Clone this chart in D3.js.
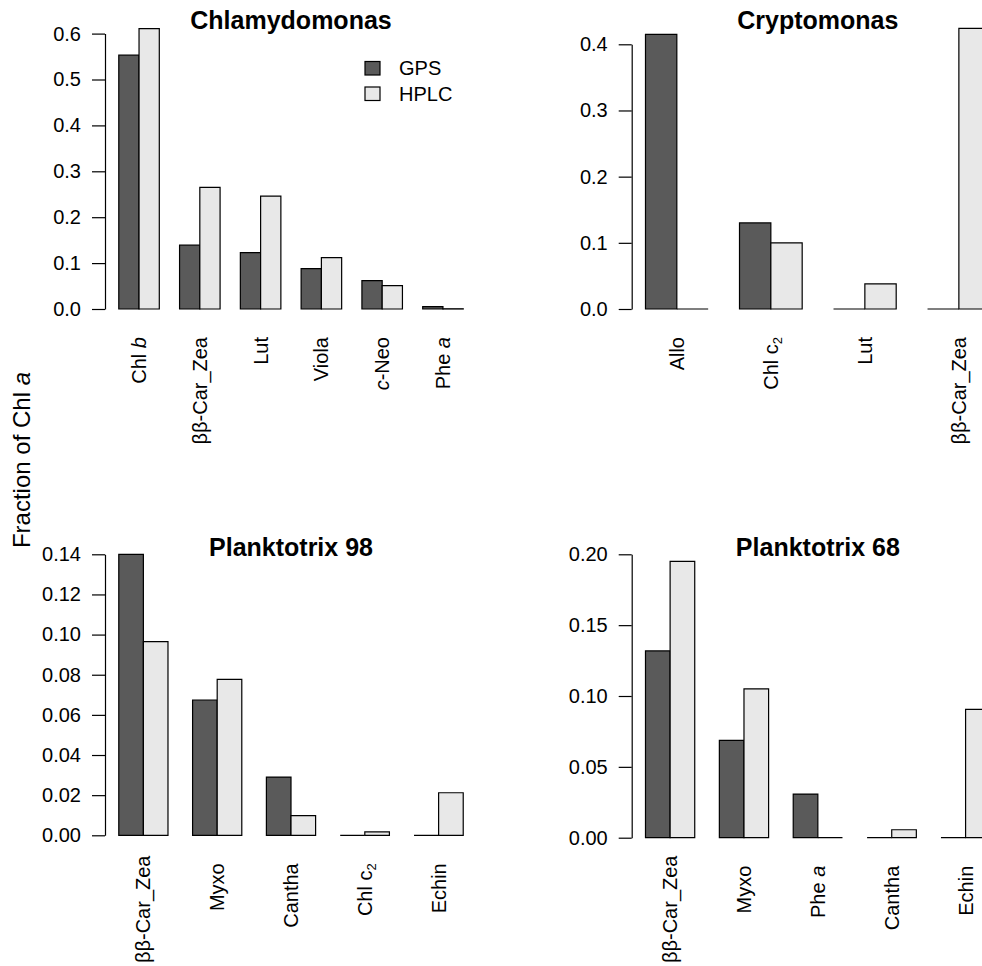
<!DOCTYPE html>
<html>
<head>
<meta charset="utf-8">
<script src="https://cdn.jsdelivr.net/npm/d3@7"></script>
<style>
  html, body { margin: 0; padding: 0; background: #ffffff; overflow: hidden; }
  svg { display: block; font-family: "Liberation Sans", Arial, Helvetica, sans-serif; }
</style>
</head>
<body>
<svg id="chart" width="982" height="966"></svg>
<script>
// ---------- data ----------
const seriesNames = ["GPS", "HPLC"];

const chlamyCats = ["Chl b", "ββ-Car_Zea", "Lut", "Viola", "c-Neo", "Phe a"];
const chlamyGPS  = [0.553, 0.139, 0.123, 0.088, 0.062, 0.005];
const chlamyHPLC = [0.611, 0.265, 0.246, 0.112, 0.051, 0.0005];
const chlamyTicks = [0.0, 0.1, 0.2, 0.3, 0.4, 0.5, 0.6];

const cryptoCats = ["Allo", "Chl c2", "Lut", "ββ-Car_Zea"];
const cryptoGPS  = [0.415, 0.130, 0, 0];
const cryptoHPLC = [0, 0.100, 0.038, 0.424];
const cryptoTicks = [0.0, 0.1, 0.2, 0.3, 0.4];

const plank98Cats = ["ββ-Car_Zea", "Myxo", "Cantha", "Chl c2", "Echin"];
const plank98GPS  = [0.140, 0.0674, 0.029, 0, 0];
const plank98HPLC = [0.0965, 0.0777, 0.0098, 0.0017, 0.0212];
const plank98Ticks = [0.00, 0.02, 0.04, 0.06, 0.08, 0.10, 0.12, 0.14];

const plank68Cats = ["ββ-Car_Zea", "Myxo", "Phe a", "Cantha", "Echin"];
const plank68GPS  = [0.1318, 0.0687, 0.0308, 0, 0];
const plank68HPLC = [0.195, 0.105, 0, 0.0056, 0.0906];
const plank68Ticks = [0.00, 0.05, 0.10, 0.15, 0.20];

// rich label formatting: [text, style] segments
const richLabels = {
  "Chl b": [["Chl ", ""], ["b", "i"]],
  "c-Neo": [["c", "i"], ["-Neo", ""]],
  "Phe a": [["Phe ", ""], ["a", "i"]],
  "Chl c2": [["Chl c", ""], ["2", "sub"]]
};

// ---------- layout ----------
const W = 982, H = 966;
const colors = { GPS: "#5a5a5a", HPLC: "#e8e8e8" };
const svg = d3.select("#chart");

const panels = [
  { title: "Chlamydomonas", cats: chlamyCats, gps: chlamyGPS, hplc: chlamyHPLC, ticks: chlamyTicks, fmt: d3.format(".1f"),
    x0: 105, x1: 477, yb: 309, yt: 33.6, legend: true },
  { title: "Cryptomonas", cats: cryptoCats, gps: cryptoGPS, hplc: cryptoHPLC, ticks: cryptoTicks, fmt: d3.format(".1f"),
    x0: 631.7, x1: 1004, yb: 309, yt: 44.3 },
  { title: "Planktotrix 98", cats: plank98Cats, gps: plank98GPS, hplc: plank98HPLC, ticks: plank98Ticks, fmt: d3.format(".2f"),
    x0: 105, x1: 477, yb: 835.3, yt: 554.3 },
  { title: "Planktotrix 68", cats: plank68Cats, gps: plank68GPS, hplc: plank68HPLC, ticks: plank68Ticks, fmt: d3.format(".2f"),
    x0: 631.7, x1: 1004, yb: 837.7, yt: 554.3 }
];

const titleBaselines = [29, 29, 556, 556];

function barPath(x, w, y0, y1) {
  return `M${x},${y0}V${y1}H${x + w}V${y0}Z`;
}

panels.forEach((p, pi) => {
  const n = p.cats.length;
  const g = svg.append("g");
  const y = d3.scaleLinear()
    .domain([p.ticks[0], p.ticks[p.ticks.length - 1]])
    .range([p.yb, p.yt]);
  // R barplot: groups of 2 bars + 1 space, 4% axis extension
  const outer = 0.04 * (3 * n - 1) / 3;
  const x = d3.scaleBand().domain(p.cats).range([p.x0, p.x1])
    .paddingInner(1 / 3).paddingOuter(outer);
  const xs = d3.scaleBand().domain(seriesNames).range([0, x.bandwidth()]);

  const rows = p.cats.map((c, i) => ({ cat: c, GPS: p.gps[i], HPLC: p.hplc[i] }));

  const grp = g.selectAll("g.grp").data(rows).join("g")
    .attr("transform", d => `translate(${x(d.cat)},0)`);
  grp.selectAll("path").data(d => seriesNames.map(s => ({ s, v: d[s] }))).join("path")
    .attr("d", d => barPath(xs(d.s), xs.bandwidth(), y(0), y(d.v)))
    .attr("fill", d => colors[d.s])
    .attr("stroke", "#000")
    .attr("stroke-width", 1.2);

  // y axis
  const ax = g.append("g").attr("transform", `translate(${p.x0},0)`)
    .call(d3.axisLeft(y).tickValues(p.ticks).tickFormat(p.fmt).tickSize(13).tickSizeOuter(0).tickPadding(11));
  ax.select(".domain").attr("stroke", "#000").attr("stroke-width", 1.2);
  ax.selectAll(".tick line").attr("stroke", "#000").attr("stroke-width", 1.2);
  ax.selectAll(".tick text").attr("fill", "#000").style("font-size", "20px")
    .style("font-family", "'Liberation Sans', Arial, sans-serif");

  // x labels (rotated); keep inside the picture's bottom edge
  p.cats.forEach(c => {
    const cx = x(c) + x.bandwidth() / 2;
    const t = g.append("text")
      .attr("text-anchor", "end")
      .attr("dy", "0.35em")
      .style("font-size", "20px")
      .attr("fill", "#000");
    const segs = richLabels[c] || [[c, ""]];
    segs.forEach(([txt, st]) => {
      const ts = t.append("tspan").text(txt);
      if (st === "i") ts.style("font-style", "italic");
      if (st === "sub") ts.style("font-size", "13px").attr("dy", "0.3em");
    });
    const len = t.node().getComputedTextLength();
    let top = p.yb + 28;
    if (top + len > H - 3) top = H - 3 - len;
    t.attr("transform", `translate(${cx},${top}) rotate(-90)`);
  });

  // title
  g.append("text")
    .attr("x", (p.x0 + p.x1) / 2)
    .attr("y", titleBaselines[pi])
    .attr("text-anchor", "middle")
    .style("font-size", "25px")
    .style("font-weight", "bold")
    .attr("fill", "#000")
    .text(p.title);

  if (p.legend) {
    const lg = g.append("g").attr("transform", "translate(365,61.5)");
    seriesNames.forEach((s, i) => {
      lg.append("rect").attr("x", 0).attr("y", i * 25.5).attr("width", 15).attr("height", 13.5)
        .attr("fill", colors[s]).attr("stroke", "#000").attr("stroke-width", 1.2);
      lg.append("text").attr("x", 34).attr("y", i * 25.5 + 6.75).attr("dy", "0.35em")
        .style("font-size", "20px").attr("fill", "#000").text(s);
    });
  }
});

// shared y-axis title
const yt = svg.append("text")
  .attr("transform", "translate(30,460) rotate(-90)")
  .attr("text-anchor", "middle")
  .style("font-size", "24px")
  .attr("fill", "#000");
yt.append("tspan").text("Fraction of Chl ");
yt.append("tspan").style("font-style", "italic").text("a");
</script>
</body>
</html>
